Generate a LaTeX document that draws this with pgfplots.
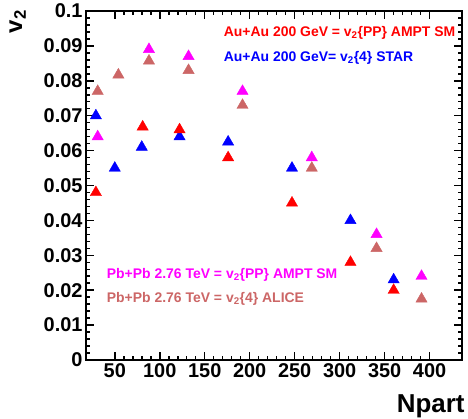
\documentclass[border=0pt]{standalone}
\usepackage{pgfplots}
\pgfplotsset{compat=1.18}
\usepackage{fontspec}
\setmainfont{Liberation Sans}
\definecolor{alicecol}{RGB}{204,102,102}
\definecolor{amptpb}{RGB}{255,0,255}
\definecolor{amptau}{RGB}{255,0,0}
\definecolor{starcol}{RGB}{0,0,255}

\begin{document}
\begin{tikzpicture}
\begin{axis}[
    scale only axis,
    width=376bp, height=349bp,
    xmin=18, xmax=436,
    ymin=0, ymax=0.1,
    xtick={50,100,150,200,250,300,350,400},
    ytick={0,0.01,0.02,0.03,0.04,0.05,0.06,0.07,0.08,0.09,0.1},
    minor x tick num=4, minor y tick num=4,
    tick align=inside,
    major tick length=8bp, minor tick length=4bp,
    every tick/.style={black, line width=1.5bp},
    axis line style={line width=2bp},
    ticklabel style={font=\fontsize{20}{22}\selectfont\bfseries},
    /pgf/number format/assume math mode=true,
    scaled y ticks=false,
    yticklabel style={/pgf/number format/fixed, /pgf/number format/precision=2},
    clip=false,
]

% STAR v2{4}
\addplot[only marks, mark=triangle*, mark size=6.5bp, color=starcol] coordinates {
    (29,0.070) (50,0.055) (80,0.061) (122,0.064) (176,0.0625) (247,0.055) (312,0.040) (360,0.023)
};
% AMPT Au+Au
\addplot[only marks, mark=triangle*, mark size=6.5bp, color=amptau] coordinates {
    (29,0.048) (81,0.0668) (122,0.066) (176,0.058) (247,0.045) (312,0.028) (360,0.020)
};
% ALICE v2{4}
\addplot[only marks, mark=triangle*, mark size=6.5bp, color=alicecol] coordinates {
    (31,0.077) (54,0.0817) (88,0.0857) (132,0.083) (192,0.073) (269,0.055) (341,0.032) (391,0.0175)
};
% AMPT Pb+Pb
\addplot[only marks, mark=triangle*, mark size=6.5bp, color=amptpb] coordinates {
    (31,0.064) (88,0.089) (132,0.087) (192,0.077) (269,0.058) (341,0.036) (391,0.024)
};

\node[anchor=west, inner sep=0, text=amptau, font=\fontsize{14}{16}\selectfont\bfseries]
    at (axis cs:171,0.0937) {Au+Au 200 GeV = v\textsubscript{2}\{PP\} AMPT SM};
\node[anchor=west, inner sep=0, text=starcol, font=\fontsize{14}{16}\selectfont\bfseries]
    at (axis cs:171,0.0865) {Au+Au 200 GeV= v\textsubscript{2}\{4\} STAR};
\node[anchor=west, inner sep=0, text=amptpb, font=\fontsize{14}{16}\selectfont\bfseries]
    at (axis cs:41,0.0244) {Pb+Pb 2.76 TeV = v\textsubscript{2}\{PP\} AMPT SM};
\node[anchor=west, inner sep=0, text=alicecol, font=\fontsize{14}{16}\selectfont\bfseries]
    at (axis cs:41,0.0175) {Pb+Pb 2.76 TeV = v\textsubscript{2}\{4\} ALICE};

\node[rotate=90, anchor=base east, inner sep=0, font=\fontsize{24}{26}\selectfont\bfseries]
    at (axis cs:-53,0.1003) {v\textsubscript{2}};
\node[anchor=base east, inner sep=0, font=\fontsize{26}{28}\selectfont\bfseries]
    at (axis cs:439,-0.0149) {Npart};
\end{axis}
\pgfresetboundingbox
\path[use as bounding box] ([xshift=-86bp,yshift=-59bp]current axis.south west)
    rectangle ([xshift=6bp,yshift=11bp]current axis.north east);
\end{tikzpicture}
\end{document}
